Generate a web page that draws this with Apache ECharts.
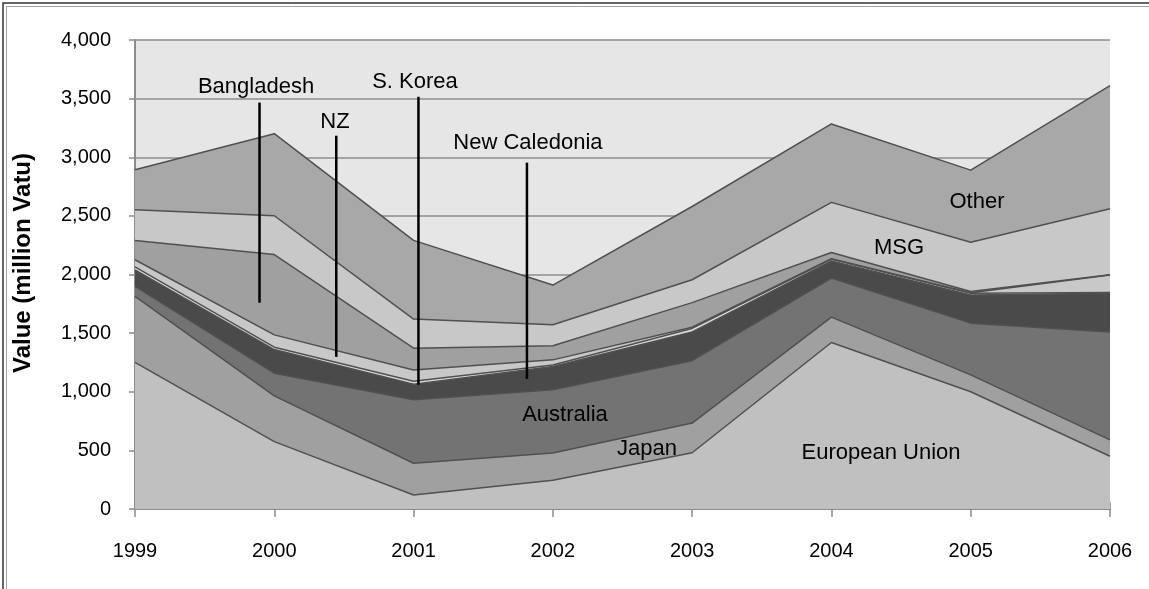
<!DOCTYPE html>
<html>
<head>
<meta charset="utf-8">
<title>Exports by destination, 1999-2006</title>
<script src="https://cdn.jsdelivr.net/npm/echarts@6/dist/echarts.min.js"></script>
<style>
  html, body { margin: 0; padding: 0; background: #ffffff; }
  #chart { width: 1149px; height: 589px; }
</style>
</head>
<body>
<div id="chart"></div>
<script>
// Export values by destination, million Vatu (stacked bottom to top)
const years = ['1999', '2000', '2001', '2002', '2003', '2004', '2005', '2006'];
const yTicks = [0, 500, 1000, 1500, 2000, 2500, 3000, 3500, 4000];

const europeanUnion = [1250, 575, 120, 245, 480, 1420, 1000, 450];
const japan         = [563, 390, 270, 233, 253, 216, 144, 140];
const australia     = [85, 193, 541, 538, 532, 334, 441, 920];
const newCaledonia  = [142, 202, 134, 199, 245, 145, 240, 331];
const sKorea        = [25, 20, 25, 14, 30, 15, 15, 5];
const nz            = [61, 105, 95, 43, 10, 5, 5, 150];
const bangladesh    = [165, 685, 187, 120, 210, 53, 10, 2];
const msg           = [262, 331, 248, 179, 195, 427, 420, 562];
const other         = [341, 700, 671, 339, 625, 669, 615, 1050];

const layers = [
  { name: 'European Union', values: europeanUnion, color: '#c0c0c0' },
  { name: 'Japan',          values: japan,         color: '#a0a0a0' },
  { name: 'Australia',      values: australia,     color: '#737373' },
  { name: 'New Caledonia',  values: newCaledonia,  color: '#4a4a4a' },
  { name: 'S. Korea',       values: sKorea,        color: '#dcdcdc' },
  { name: 'NZ',             values: nz,            color: '#c8c8c8' },
  { name: 'Bangladesh',     values: bangladesh,    color: '#a0a0a0' },
  { name: 'MSG',            values: msg,           color: '#c8c8c8' },
  { name: 'Other',          values: other,         color: '#a8a8a8' }
];

// Series labels placed in data space (x = fractional year); some have a leader line into their band
const callouts = [
  { text: 'Bangladesh',     at: [1999.869, 3600], line: [1999.894, 3466, 1759] },
  { text: 'NZ',             at: [2000.436, 3300], line: [2000.445, 3184, 1297] },
  { text: 'S. Korea',       at: [2001.010, 3640], line: [2001.035, 3517, 1059] },
  { text: 'New Caledonia',  at: [2001.821, 3120], line: [2001.814, 2954, 1110] },
  { text: 'Australia',      at: [2002.087, 800] },
  { text: 'Japan',          at: [2002.676, 510] },
  { text: 'European Union', at: [2004.356, 475] },
  { text: 'MSG',            at: [2004.485, 2225] },
  { text: 'Other',          at: [2005.045, 2618] }
];

const FONT = '"Liberation Sans", Arial, sans-serif';

const areaSeries = layers.map(function (layer) {
  return {
    name: layer.name,
    type: 'line',
    stack: 'total',
    symbol: 'none',
    silent: true,
    xAxisIndex: 0,
    data: layer.values,
    lineStyle: { color: '#505050', width: 1.5 },
    areaStyle: { color: layer.color, opacity: 1 },
    itemStyle: { color: layer.color },
    z: 2
  };
});

const calloutSeries = {
  type: 'custom',
  silent: true,
  xAxisIndex: 1,
  z: 10,
  data: callouts.map(function (c, i) { return [c.at[0], c.at[1], i]; }),
  renderItem: function (params, api) {
    const c = callouts[api.value(2)];
    const children = [];
    const p = api.coord([c.at[0], c.at[1]]);
    children.push({
      type: 'text',
      style: {
        x: p[0], y: p[1], text: c.text,
        fill: '#000000', font: '22px ' + FONT,
        align: 'center', verticalAlign: 'middle'
      }
    });
    if (c.line) {
      const a = api.coord([c.line[0], c.line[1]]);
      const b = api.coord([c.line[0], c.line[2]]);
      children.push({
        type: 'line',
        shape: { x1: a[0], y1: a[1], x2: b[0], y2: b[1] },
        style: { stroke: '#000000', lineWidth: 2.5 }
      });
    }
    return { type: 'group', children: children };
  }
};

const chart = echarts.init(document.getElementById('chart'), null, { renderer: 'canvas' });

chart.setOption({
  animation: false,
  backgroundColor: '#ffffff',
  textStyle: { fontFamily: FONT },
  grid: {
    left: 135, right: 39, top: 40, bottom: 80,
    show: true, backgroundColor: '#e6e6e6', borderWidth: 0
  },
  xAxis: [{
    type: 'category',
    data: years,
    boundaryGap: false,
    axisLine: { show: true, lineStyle: { color: '#8c8c8c', width: 2 } },
    axisTick: { show: true, length: 8, lineStyle: { color: '#8c8c8c', width: 1.5 } },
    axisLabel: { color: '#000000', fontSize: 20, margin: 32, fontFamily: FONT },
    splitLine: { show: false }
  }, {
    // continuous year scale over the same span, used for label placement and inner ticks
    type: 'value', position: 'bottom',
    min: 1999, max: 2006, interval: 1,
    axisLine: { show: false },
    axisTick: { show: true, inside: true, length: 7, lineStyle: { color: '#8c8c8c', width: 1.5 } },
    axisLabel: { show: false },
    splitLine: { show: false }
  }],
  yAxis: {
    type: 'value',
    min: yTicks[0], max: yTicks[yTicks.length - 1], interval: 500,
    axisLine: { show: true, lineStyle: { color: '#8c8c8c', width: 2 } },
    axisTick: { show: true, length: 6, lineStyle: { color: '#8c8c8c', width: 1.5 } },
    axisLabel: {
      color: '#000000', fontSize: 20, margin: 24, fontFamily: FONT,
      formatter: function (v) { return v.toLocaleString('en-US'); }
    },
    splitLine: { show: true, lineStyle: { color: '#8c8c8c', width: 1.5 } }
  },
  series: areaSeries.concat([calloutSeries]),
  graphic: [
    {
      // value axis title
      type: 'text', silent: true, z: 50,
      x: 23, y: 263, rotation: Math.PI / 2,
      style: {
        text: 'Value (million Vatu)', fill: '#000000',
        font: 'bold 24px ' + FONT, align: 'center', verticalAlign: 'middle'
      }
    },
    {
      type: 'rect', silent: true, z: 100,
      shape: { x: 3, y: 3, width: 1400, height: 800 },
      style: { fill: null, stroke: '#333333', lineWidth: 1.5 }
    },
    {
      type: 'rect', silent: true, z: 100,
      shape: { x: 6.5, y: 6.5, width: 1400, height: 800 },
      style: { fill: null, stroke: '#a0a0a0', lineWidth: 1 }
    }
  ]
});
</script>
</body>
</html>
